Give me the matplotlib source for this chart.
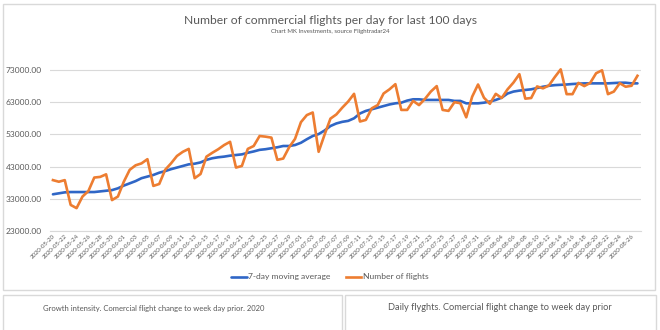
""" Commercial flights per day - last 100 days """

# * Importar librerias
import datetime as dt
import matplotlib.pyplot as plt
from matplotlib.patches import Rectangle

plt.rcParams['font.family'] = ['Lato', 'DejaVu Sans']

# * Datos
inicio = dt.date(2020, 5, 20)
fechas = [(inicio + dt.timedelta(days=i)).strftime('%Y-%m-%d') for i in range(100)]

vuelos = [
    38800, 38300, 38800, 31100, 30100, 33700, 35400, 39600, 39800, 40600,
    32600, 33700, 38300, 42000, 43400, 44000, 45300, 37000, 37600, 42000,
    44000, 46300, 47600, 48500, 39400, 40700, 46100, 47300, 48400, 49700,
    50700, 42700, 43200, 48500, 49400, 52500, 52300, 52000, 45100, 45500,
    49000, 51600, 56800, 59000, 59800, 47600, 52900, 57900, 59200, 61300,
    63200, 65600, 57000, 57500, 61100, 62100, 65700, 67000, 68600, 60600,
    60600, 63400, 62100, 64000, 66300, 68000, 60600, 60300, 63000, 62700,
    58300, 64700, 68500, 64400, 62500, 65600, 64300, 67000, 69100, 71700,
    64100, 64300, 67900, 67300, 68200, 70800, 73200, 65500, 65500, 69000,
    68000, 69000, 72000, 72900, 65500, 66300, 68900, 67800, 68100, 71200,
]

media_7d = [
    34400, 34700, 35000, 35100, 35100, 35100, 35100, 35100, 35300, 35500,
    35700, 36250, 37100, 37800, 38500, 39400, 39900, 40400, 41100, 41600,
    42200, 42700, 43200, 43700, 43900, 44300, 45100, 45600, 45900, 46100,
    46400, 46600, 46800, 47300, 47700, 48200, 48400, 48700, 49000, 49400,
    49400, 49700, 50400, 51500, 52500, 53100, 54200, 55600, 56400, 56900,
    57200, 58000, 59500, 60300, 60800, 61300, 61800, 62300, 62650, 62850,
    63500, 63900, 63900, 63700, 63700, 63700, 63700, 63700, 63400, 63400,
    62650, 62650, 62650, 62850, 63200, 63700, 64400, 65700, 66300, 66600,
    66800, 67000, 67400, 67800, 68100, 68300, 68400, 68500, 68650, 68750,
    68850, 68850, 68850, 68850, 68850, 68950, 69050, 69050, 68850, 68850,
]

yticks = [23000, 33000, 43000, 53000, 63000, 73000]

AZUL = '#2f66c6'
NARANJA = '#ed7d31'
GRIS = '#595959'
BORDE = '#d9d9d9'

W, H = 660, 330
fig = plt.figure(figsize=(W / 100, H / 100), dpi=100)


def caja(x0, y0, x1, y1):
    # rectangulo en pixeles (origen arriba a la izquierda)
    fig.patches.append(Rectangle((x0 / W, 1 - y1 / H), (x1 - x0) / W, (y1 - y0) / H,
                                 transform=fig.transFigure, fill=False,
                                 edgecolor=BORDE, linewidth=1.0))


# * Paneles del tablero
caja(3, 4, 655, 290)
caja(3, 295, 342, 340)
caja(345, 295, 656, 340)

fig.text(330 / W, 1 - 20 / H, 'Number of commercial flights per day for last 100 days',
         ha='center', va='center', fontsize=8.7, color=GRIS)
fig.text(330 / W, 1 - 31 / H, 'Chart MK Investments, source Flightradar24',
         ha='center', va='center', fontsize=4.4, color=GRIS)
fig.text(154 / W, 1 - 308 / H, 'Growth intensity. Comercial flight change to week day prior. 2020',
         ha='center', va='center', fontsize=5.5, color=GRIS)
fig.text(500 / W, 1 - 308 / H, 'Daily flyghts. Comercial flight change to week day prior',
         ha='center', va='center', fontsize=6.7, color=GRIS)

# * Grafico principal
y_min, y_max = 23000, 74000
top_px = 70 - (y_max - 73000) / 50000 * 161
ax = fig.add_axes([50 / W, 1 - 231 / H, (641 - 50) / W, (231 - top_px) / H])

x = list(range(len(fechas)))
ax.plot(x, media_7d, color=AZUL, linewidth=1.9, label='7-day moving average',
        solid_capstyle='round', zorder=3)
ax.plot(x, vuelos, color=NARANJA, linewidth=1.9, label='Number of flights',
        solid_joinstyle='round', zorder=4)

ax.set_xlim(-0.5, 99.6)
ax.set_ylim(y_min, y_max)
ax.set_yticks(yticks)
ax.set_yticklabels([f'{v:.2f}' for v in yticks], fontsize=6, color=GRIS)
ax.set_xticks(x[::2])
ax.set_xticklabels(fechas[::2], rotation=45, ha='right', rotation_mode='anchor',
                   fontsize=4.3, color=GRIS)
ax.tick_params(length=0, pad=2)
ax.tick_params(axis='y', pad=6)
ax.grid(axis='y', color=BORDE, linewidth=0.8)
ax.set_axisbelow(True)
for lado in ['top', 'right', 'left']:
    ax.spines[lado].set_visible(False)
ax.spines['bottom'].set_color(BORDE)
ax.spines['bottom'].set_linewidth(0.8)

ax.legend(loc='center', bbox_to_anchor=(0.5, 1 - 277 / H), bbox_transform=fig.transFigure,
          ncol=2, frameon=False, fontsize=6.1, handlelength=1.8, handletextpad=0.2,
          columnspacing=1.8, labelcolor=GRIS)

fig.savefig('out.png', dpi=100, facecolor='white')
